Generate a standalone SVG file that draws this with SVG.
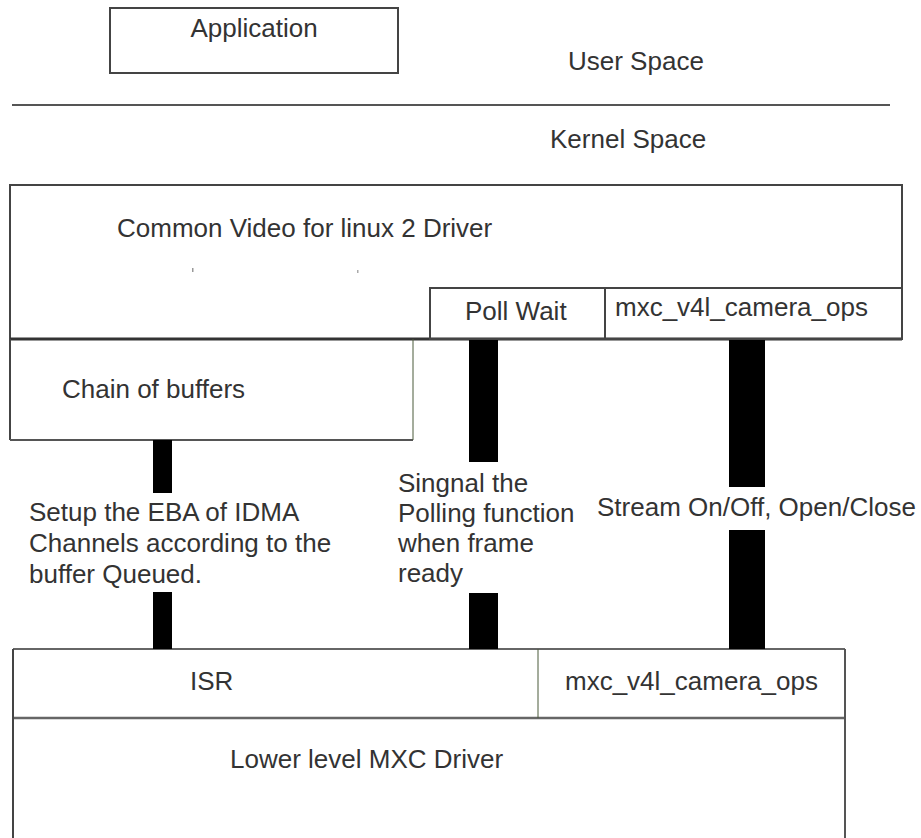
<svg xmlns="http://www.w3.org/2000/svg" width="921" height="838" viewBox="0 0 921 838">
<style>
  text { font-family: "Liberation Sans", Arial, sans-serif; fill: #333; font-size: 26px; }
  .box { fill: none; stroke: #444; stroke-width: 2; }
  .thin { stroke: #4a5a3a; stroke-width: 1; fill: none; }
  .bar { fill: #000; }
</style>
<rect width="921" height="838" fill="#fff"/>

<g id="application">
  <rect class="box" x="110" y="8" width="288" height="65"/>
  <text x="254" y="37" font-size="19" text-anchor="middle" fill="#2a2a3a">Application</text>
</g>

<g id="space-divider">
  <line x1="12" y1="105" x2="890" y2="105" stroke="#555" stroke-width="2"/>
  <text x="568" y="70" font-size="27.5">User Space</text>
  <text x="550" y="148" font-size="24">Kernel Space</text>
</g>

<g id="v4l2-driver">
  <rect class="box" x="10" y="185" width="892" height="154"/>
  <line x1="10" y1="339" x2="902" y2="339" stroke="#333" stroke-width="3"/>
  <text x="117" y="237" font-size="27.6">Common Video for linux 2 Driver</text>
  <rect x="192" y="268" width="1.5" height="4" fill="#999"/>
  <rect x="357" y="270" width="1.5" height="3" fill="#aaa"/>
</g>

<g id="poll-wait">
  <rect class="box" x="430" y="288" width="175" height="51" stroke-width="1.5"/>
  <text x="465" y="320" font-size="27">Poll Wait</text>
</g>

<g id="camera-ops-top">
  <rect class="box" x="605" y="288" width="297" height="51" stroke-width="1.5"/>
  <text x="615" y="316" font-size="28">mxc_v4l_camera_ops</text>
</g>

<g id="chain-of-buffers">
  <line x1="10" y1="339" x2="10" y2="440" stroke="#444" stroke-width="2"/>
  <line x1="10" y1="440" x2="413" y2="440" stroke="#555" stroke-width="2"/>
  <line class="thin" x1="413" y1="339" x2="413" y2="440"/>
  <text x="62" y="398" font-size="27">Chain of buffers</text>
</g>

<g id="isr">
  <line x1="13" y1="649" x2="845" y2="649" stroke="#333" stroke-width="1.5"/>
  <line x1="13" y1="718" x2="845" y2="718" stroke="#666" stroke-width="2.5"/>
  <line class="thin" x1="538" y1="649" x2="538" y2="718"/>
  <text x="190" y="690" font-size="25">ISR</text>
</g>

<g id="camera-ops-bottom">
  <text x="565" y="690" font-size="27">mxc_v4l_camera_ops</text>
</g>

<g id="lower-level-driver">
  <line x1="13" y1="649" x2="13" y2="838" stroke="#444" stroke-width="2"/>
  <line x1="845" y1="649" x2="845" y2="838" stroke="#555" stroke-width="2"/>
  <text x="230" y="768" font-size="24">Lower level MXC Driver</text>
</g>

<g id="connectors">
  <rect class="bar" x="153" y="440" width="19" height="53"/>
  <rect class="bar" x="153" y="592" width="19" height="57"/>
  <rect class="bar" x="469" y="340" width="29" height="122"/>
  <rect class="bar" x="469" y="593" width="29" height="56"/>
  <rect class="bar" x="729" y="340" width="36" height="147"/>
  <rect class="bar" x="729" y="530" width="36" height="119"/>
  <text x="29" y="521" font-size="26.8">Setup the EBA of IDMA</text>
  <text x="29" y="552" font-size="26.8">Channels according to the</text>
  <text x="29" y="583" font-size="26.8">buffer Queued.</text>
  <text x="398" y="492">Singnal the</text>
  <text x="398" y="522">Polling function</text>
  <text x="398" y="552">when frame</text>
  <text x="398" y="582">ready</text>
  <text x="597" y="516">Stream On/Off, Open/Close</text>
</g>
</svg>
